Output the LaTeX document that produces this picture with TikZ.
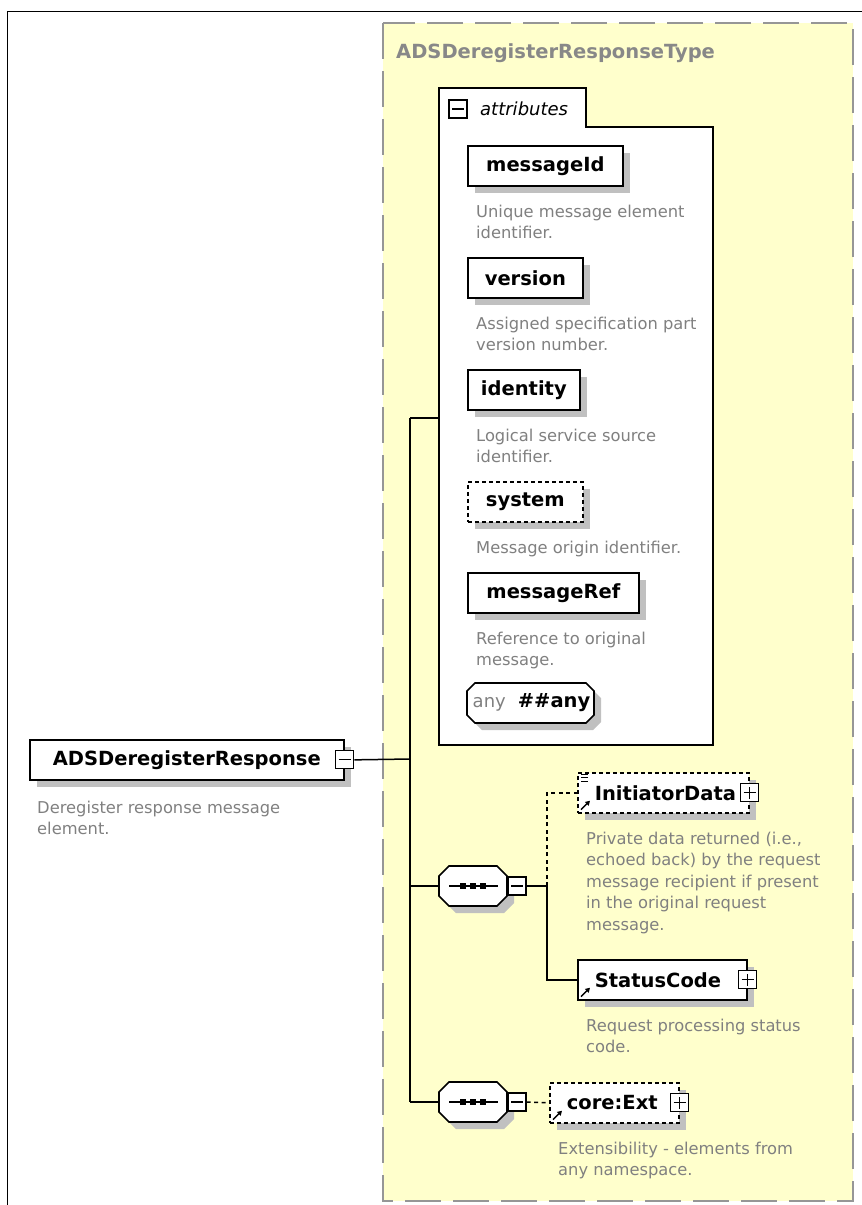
\documentclass[tikz,border=0pt]{standalone}
\usepackage{fontspec}
\setmainfont{DejaVu Sans}
\usetikzlibrary{shadows,arrows.meta}
\definecolor{bgyellow}{RGB}{255,255,204}
\definecolor{descgray}{RGB}{128,128,128}
\definecolor{titlegray}{RGB}{136,136,136}
\definecolor{shgray}{RGB}{192,192,192}
\definecolor{framegray}{RGB}{150,150,150}
% octagon outline around a (rectangular, invisible) node #1, chamfer #2, offset (#3,#4)
\newcommand{\octopath}[4]{([shift={(#2+#3,#4)}]#1.north west) -- ([shift={(-#2+#3,#4)}]#1.north east)
  -- ([shift={(#3,#2+#4)}]#1.north east) -- ([shift={(#3,-#2+#4)}]#1.south east)
  -- ([shift={(-#2+#3,#4)}]#1.south east) -- ([shift={(#2+#3,#4)}]#1.south west)
  -- ([shift={(#3,-#2+#4)}]#1.south west) -- ([shift={(#3,#2+#4)}]#1.north west) -- cycle}
\tikzset{
  elembox/.style={draw, line width=1.7pt, fill=white, minimum height=40pt, inner sep=0pt,
    font=\fontsize{19.5}{23}\selectfont\bfseries, anchor=north west,
    general shadow={fill=shgray, shadow xshift=7pt, shadow yshift=-7pt}},
  refbox/.style={elembox, align=left, inner xsep=17pt, text width=#1},
  dashedbox/.style={dash pattern=on 4pt off 3pt},
  desc/.style={anchor=base west, inner sep=0pt, align=left, text=descgray,
    font=\fontsize{16.3}{21.5}\selectfont},
  pmbox/.style={draw, fill=white, line width=1.2pt, minimum size=18pt, inner sep=0pt},
  minusbox/.style={pmbox, path picture={\draw[line width=1.2pt]
      ([xshift=3pt]path picture bounding box.west) -- ([xshift=-3pt]path picture bounding box.east);}},
  plusbox/.style={pmbox, path picture={\draw[line width=1.2pt]
      ([xshift=3pt]path picture bounding box.west) -- ([xshift=-3pt]path picture bounding box.east)
      ([yshift=3pt]path picture bounding box.south) -- ([yshift=-3pt]path picture bounding box.north);}},
  octnode/.style={rectangle, inner sep=0pt, outer sep=0pt, minimum height=40pt},
  octline/.style={draw=black, fill=white, line width=1.7pt},
  conn/.style={line width=1.5pt},
  optconn/.style={conn, dash pattern=on 4pt off 3.5pt},
  refarrow/.style={line width=1.4pt, -{Triangle[length=4.5pt,width=5pt]}},
}
\begin{document}
\begin{tikzpicture}[x=1pt,y=-1pt]
\useasboundingbox (0,0) rectangle (862,1205);
% outer frame
\draw[line width=1.6pt] (7.5,1205) -- (7.5,11.5) -- (862,11.5);
% complex type box
\filldraw[fill=bgyellow, draw=framegray, line width=2pt, dash pattern=on 36pt off 12pt]
  (383,23) rectangle (853,1201);
\node[anchor=base west, inner sep=0pt, text=titlegray, font=\fontsize{19.5}{23}\selectfont\bfseries]
  (title) at (396,58) {ADSDeregisterResponseType};
% attributes box
\filldraw[fill=white, draw=black, line width=1.7pt]
  (439,745) -- (439,88) -- (586,88) -- (586,127) -- (713,127) -- (713,745) -- cycle;
\node[minusbox] (attrpm) at (458,109) {};
\node[anchor=base west, inner sep=0pt, font=\fontsize{18}{22}\selectfont\itshape]
  (attrlabel) at (480,115) {attributes};

% attributes
\node[elembox, minimum width=155] (messageId) at (467,145) {messageId};
\node[desc] (d-msgid) at (476,238.5) {Unique message element\\identifier.};
\node[elembox, minimum width=115] (version) at (467,257) {version};
\node[desc] (d-ver) at (476,350.5) {Assigned specification part\\version number.};
\node[elembox, minimum width=112] (identity) at (467,369) {identity};
\node[desc] (d-ident) at (476,462.5) {Logical service source\\identifier.};
\node[elembox, dashedbox, minimum width=115] (system) at (467,481) {system};
\node[desc] (d-sys) at (476,553) {Message origin identifier.};
\node[elembox, minimum width=171] (messageRef) at (467,572) {messageRef};
\node[desc] (d-ref) at (476,665.5) {Reference to original\\message.};
% any wildcard
\node[octnode, minimum width=127] (anyshape) at (530.5,703) {};
\fill[shgray] \octopath{anyshape}{8}{7}{7};
\filldraw[octline] \octopath{anyshape}{8}{0}{0};
\node[inner sep=0pt, font=\fontsize{19.5}{23}\selectfont\bfseries] (any) at ([xshift=1pt]anyshape.center)
  {{\mdseries\color{descgray}\fontsize{18}{22}\selectfont any}\hspace{12pt}\#\#any};

% root element
\node[elembox, minimum width=314] (main) at (29,739) {ADSDeregisterResponse};
\node[minusbox] (mainpm) at (main.east) {};
\node[desc] (d-main) at (37,834.5) {Deregister response message\\element.};

% sequences
\node[octnode, minimum width=68] (seq1) at (473,886) {};
\node[octnode, minimum width=68] (seq2) at (473,1102) {};
\foreach \s in {seq1,seq2}{
  \fill[shgray] \octopath{\s}{10}{7}{7};
  \filldraw[octline] \octopath{\s}{10}{0}{0};
  \draw[line width=1.5pt] ([xshift=10pt]\s.west) -- ([xshift=-9pt]\s.east);
  \foreach \dx in {-10,0,10}
    \fill ([xshift=\dx pt]\s.center) ++(-2.6,-2.6) rectangle ++(5.2,5.2);
}
\node[minusbox] (seq1pm) at ([xshift=10pt]seq1.east) {};
\node[minusbox] (seq2pm) at ([xshift=10pt]seq2.east) {};

% child elements
\node[refbox=137, dashedbox] (initiator) at (577,772) {InitiatorData};
\node[plusbox] (initpm) at (initiator.east) {};
\node[desc] (d-init) at (586,930) {Private data returned (i.e.,\\echoed back) by the request\\message recipient if present\\in the original request\\message.};
\node[refbox=135] (status) at (577,959) {StatusCode};
\node[plusbox] (statuspm) at (status.east) {};
\node[desc] (d-status) at (586,1052.5) {Request processing status\\code.};
\node[refbox=95, dashedbox] (coreext) at (549,1082) {core:Ext};
\node[plusbox] (extpm) at (coreext.east) {};
\node[desc] (d-ext) at (558,1175.5) {Extensibility - elements from\\any namespace.};

% reference icons
\foreach \n in {initiator,status,coreext}
  \draw[refarrow] ([shift={(4,-4)}]\n.south west) -- ++(9,-9);
\foreach \dy in {2,5.5,9}
  \draw[line width=0.9pt] ([shift={(4,\dy)}]initiator.north west) -- ++(7,0);

% connectors
\coordinate (jmain) at (410,759);
\coordinate (jattr) at (410,418);
\coordinate (jseq1) at (410,886);
\coordinate (jseq2) at (410,1102);
\coordinate (attrW) at (439,418);
\coordinate (b1) at (547,886);
\draw[conn] (mainpm.east) -- (jmain);
\draw[conn] (jattr) -- (jseq2);
\draw[conn] (jattr) -- (attrW);
\draw[conn] (jseq1) -- (seq1.west);
\draw[conn] (jseq2) -- (seq2.west);
\draw[conn] (seq1pm.east) -- (b1);
\draw[optconn] (b1) |- (initiator.west);
\draw[conn] (b1) |- (status.west);
\draw[optconn] (seq2pm.east) -- (coreext.west);
\end{tikzpicture}
\end{document}
